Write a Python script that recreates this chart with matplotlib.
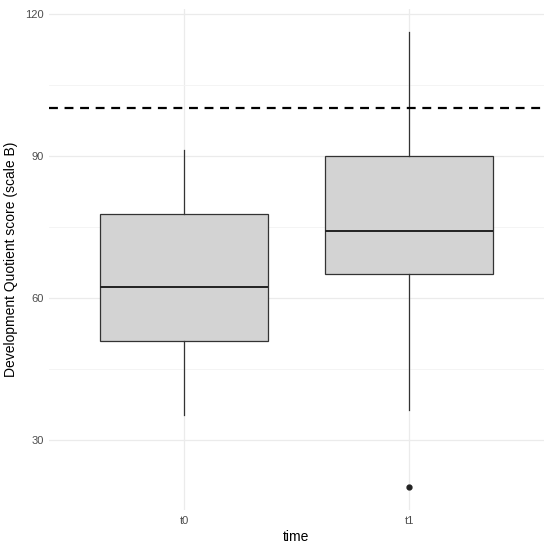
import matplotlib
matplotlib.use('Agg')
import matplotlib.pyplot as plt

groups = ['t0', 't1']
whislo = [35.3, 36.3]
q1 = [50.9, 65.1]
med = [62.3, 74.2]
q3 = [77.7, 90.0]
whishi = [91.3, 116.2]
fliers = [[], [20.1]]
ref_line = 100

stats = []
for i, g in enumerate(groups):
    stats.append({'label': g, 'whislo': whislo[i], 'q1': q1[i], 'med': med[i],
                  'q3': q3[i], 'whishi': whishi[i], 'fliers': fliers[i]})

plt.rcParams['font.family'] = ['Liberation Sans', 'DejaVu Sans']
fig = plt.figure(figsize=(5.45, 5.49), dpi=100)
ax = fig.add_axes([49 / 545, 1 - 510 / 549, 495 / 545, 501 / 549])

ax.bxp(stats, positions=[1, 2], widths=0.75, patch_artist=True, showcaps=False,
       boxprops=dict(facecolor='#d3d3d3', edgecolor='#333333', linewidth=0.9),
       medianprops=dict(color='#222222', linewidth=1.4),
       whiskerprops=dict(color='#333333', linewidth=0.9),
       flierprops=dict(marker='o', markerfacecolor='#222222', markeredgecolor='#222222',
                       markersize=3.5), zorder=3)
ax.axhline(ref_line, color='black', linestyle=(0, (4, 3)), linewidth=1.6, zorder=4)

ax.set_xlim(0.4, 2.6)
ax.set_ylim(15.2, 121.0)
ax.set_yticks([30, 60, 90, 120])
ax.set_yticks([45, 75, 105], minor=True)
ax.set_xticks([1, 2])
ax.set_xticklabels(groups)
ax.grid(True, which='major', color='#ebebeb', linewidth=0.9, zorder=0)
ax.grid(True, which='minor', axis='y', color='#f3f3f3', linewidth=0.6, zorder=0)
ax.set_axisbelow(True)
for s in ax.spines.values():
    s.set_visible(False)
ax.tick_params(length=0, labelsize=8, labelcolor='#4d4d4d', pad=4)
ax.tick_params(which='minor', length=0)
ax.set_xlabel('time', fontsize=10, labelpad=3)
ax.set_ylabel('Development Quotient score (scale B)', fontsize=10, labelpad=5)

fig.savefig('out.png', dpi=100)
